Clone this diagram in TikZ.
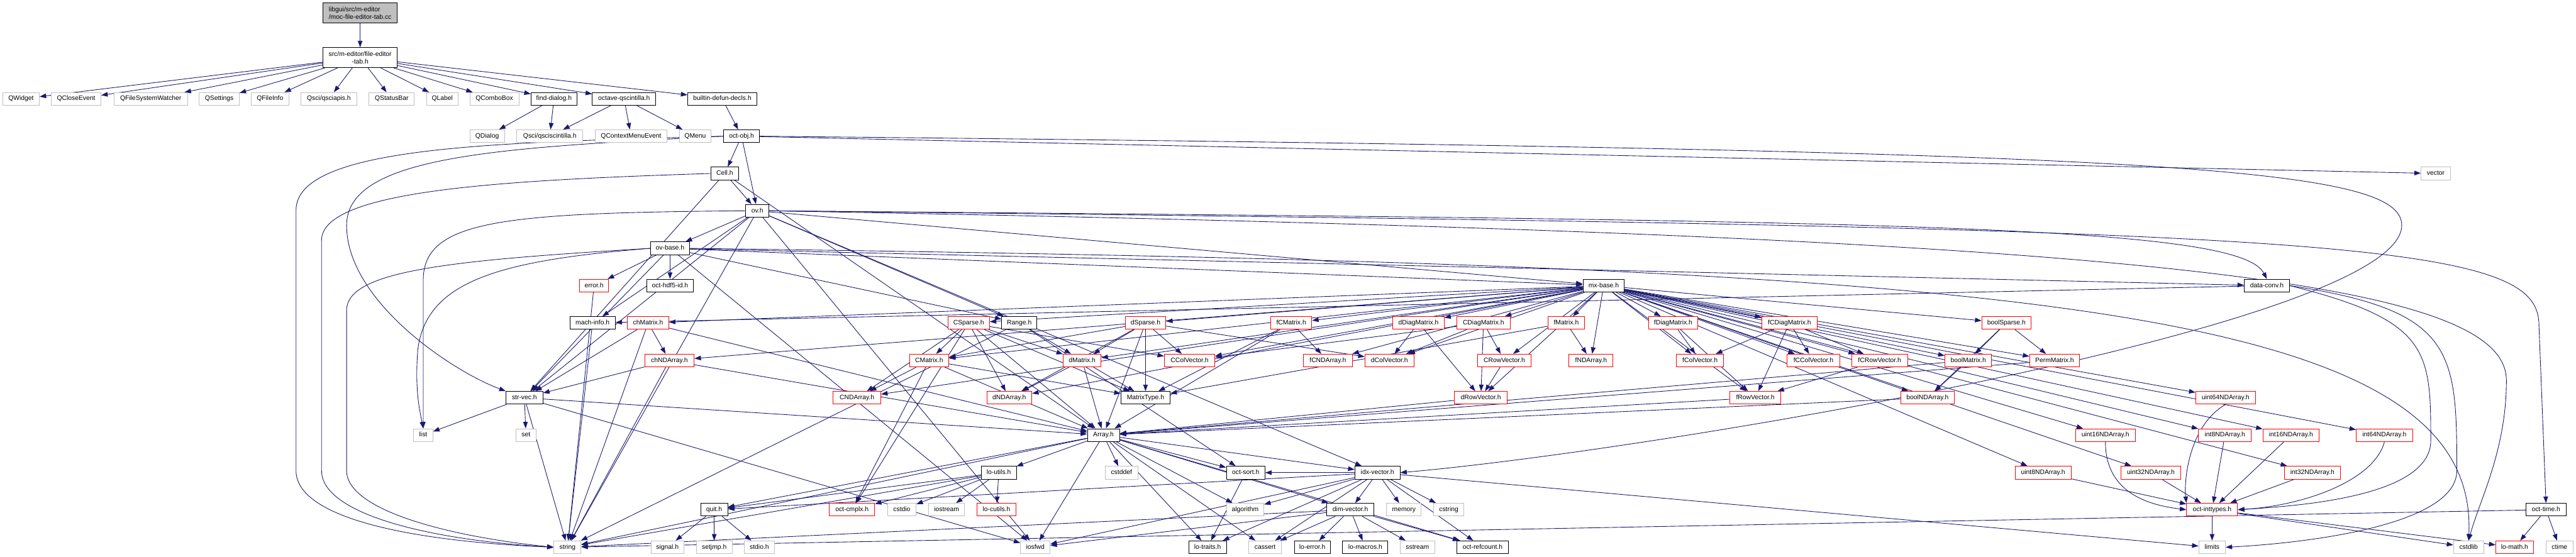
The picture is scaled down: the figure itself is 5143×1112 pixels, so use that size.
\documentclass[tikz,border=0pt]{standalone}
\usepackage{fontspec}
\setmainfont{Liberation Sans}
\usetikzlibrary{arrows.meta}
\definecolor{edgec}{HTML}{191970}
\definecolor{grayb}{HTML}{BFBFBF}
\definecolor{rootf}{HTML}{BFBFBF}
\definecolor{redb}{HTML}{FF0000}
\pgfdeclarelayer{back}
\pgfdeclarelayer{bg}
\pgfsetlayers{back,bg,main}
\tikzset{
 nb/.style={draw, fill=white, line width=0.55pt, inner sep=0pt, minimum height=12.75pt,
   font=\fontsize{6.5pt}{7.5pt}\selectfont, text height=4.8pt, text depth=1.4pt},
 gn/.style={nb, draw=grayb},
 bn/.style={nb, draw=black},
 rn/.style={nb, draw=redb},
 bw/.style={minimum width=#1*0.5pt},
 two/.style={draw=black, line width=0.55pt, inner sep=0pt, minimum height=20pt,
   font=\fontsize{6.5pt}{7.5pt}\selectfont},
 edg/.style={draw=edgec, line width=0.55pt, -{Triangle[length=6.5pt,width=4.6pt]}},
}
\begin{document}
\begin{tikzpicture}[x=0.5pt,y=-0.5pt]
\useasboundingbox (0,0) rectangle (5143,1112);
\begin{pgfonlayer}{back}
\fill[white] (0,0) rectangle (5143,1112);
\end{pgfonlayer}
% top
\node[two,fill=rootf,bw=148,align=left] (root) at (719,25.7) {libgui/src/m-editor\\/moc-file-editor-tab.cc};
\node[two,fill=white,bw=148,align=center] (fet) at (719,115) {src/m-editor/file-editor\\-tab.h};
% row 2
\node[gn,bw=73] (QWidget) at (42,197.5) {QWidget};
\node[gn,bw=99] (QCloseEvent) at (152,197.5) {QCloseEvent};
\node[gn,bw=146.5] (QFSW) at (301,197.5) {QFileSystemWatcher};
\node[gn,bw=80] (QSettings) at (437.7,197.5) {QSettings};
\node[gn,bw=75] (QFileInfo) at (539,197.5) {QFileInfo};
\node[gn,bw=112] (qsciapis) at (656.5,197.5) {Qsci/qsciapis.h};
\node[gn,bw=90.5] (QStatusBar) at (782,197.5) {QStatusBar};
\node[gn,bw=62.6] (QLabel) at (883,197.5) {QLabel};
\node[gn,bw=97.6] (QComboBox) at (987,197.5) {QComboBox};
\node[bn,bw=91.6] (finddlg) at (1106,197.5) {find-dialog.h};
\node[bn,bw=126.7] (octqsci) at (1246,197.5) {octave-qscintilla.h};
\node[bn,bw=138] (builtin) at (1442,197.5) {builtin-defun-decls.h};
% row 3
\node[gn,bw=69] (QDialog) at (972.6,272) {QDialog};
\node[gn,bw=132] (qsciscin) at (1097.7,272) {Qsci/qsciscintilla.h};
\node[gn,bw=143.7] (QCME) at (1260,272) {QContextMenuEvent};
\node[gn,bw=64] (QMenu) at (1388,272) {QMenu};
\node[bn,bw=72] (octobj) at (1480.5,272) {oct-obj.h};
% rows 4-7
\node[bn,bw=56] (Cell) at (1447,346.5) {Cell.h};
\node[gn,bw=58.6] (vector) at (4863,346.5) {vector};
\node[bn,bw=46.6] (ovh) at (1512,421) {ov.h};
\node[bn,bw=78] (ovbase) at (1337.7,496) {ov-base.h};
\node[rn,bw=58] (error) at (1186,570.5) {error.h};
\node[bn,bw=94] (hdf5) at (1337.7,570.5) {oct-hdf5-id.h};
\node[bn,bw=82.8] (mxbase) at (3201.7,570.5) {mx-base.h};
\node[bn,bw=90.3] (dataconv) at (4525.8,570.5) {data-conv.h};
% row 8
\node[bn,bw=90.5] (machinfo) at (1183,645) {mach-info.h};
\node[rn,bw=82] (chMatrix) at (1294,645) {chMatrix.h};
\node[rn,bw=83] (CSparse) at (1934,645) {CSparse.h};
\node[bn,bw=70] (Range) at (2035,645) {Range.h};
\node[rn,bw=81] (dSparse) at (2287,645) {dSparse.h};
\node[rn,bw=82] (fCMatrix) at (2578,645) {fCMatrix.h};
\node[rn,bw=102] (dDiag) at (2832,645) {dDiagMatrix.h};
\node[rn,bw=106.4] (CDiag) at (2961.7,645) {CDiagMatrix.h};
\node[rn,bw=73.5] (fMatrix) at (3127,645) {fMatrix.h};
\node[rn,bw=99] (fDiag) at (3340.4,645) {fDiagMatrix.h};
\node[rn,bw=110.8] (fCDiag) at (3572.7,645) {fCDiagMatrix.h};
\node[rn,bw=98] (boolSparse) at (4005.7,645) {boolSparse.h};
% row 9
\node[rn,bw=98.7] (chND) at (1336.5,720) {chNDArray.h};
\node[rn,bw=78.4] (CMatrix) at (1855,720) {CMatrix.h};
\node[rn,bw=75.7] (dMatrix) at (2160.5,720) {dMatrix.h};
\node[rn,bw=101] (CColV) at (2375,720) {CColVector.h};
\node[rn,bw=98.7] (fCND) at (2651,720) {fCNDArray.h};
\node[rn,bw=98] (dColV) at (2774,720) {dColVector.h};
\node[rn,bw=107.5] (CRowV) at (3003.4,720) {CRowVector.h};
\node[rn,bw=88] (fND) at (3176.5,720) {fNDArray.h};
\node[rn,bw=94] (fColV) at (3394,720) {fColVector.h};
\node[rn,bw=105.3] (fCColV) at (3620.4,720) {fCColVector.h};
\node[rn,bw=111.9] (fCRowV) at (3752.6,720) {fCRowVector.h};
\node[rn,bw=93.2] (boolMatrix) at (3929.7,720) {boolMatrix.h};
\node[rn,bw=99.8] (PermMatrix) at (4102,720) {PermMatrix.h};
% row 10
\node[bn,bw=73.5] (strvec) at (1047,794.5) {str-vec.h};
\node[rn,bw=95] (CND) at (1711,794.5) {CNDArray.h};
\node[rn,bw=90] (dND) at (2015,794.5) {dNDArray.h};
\node[bn,bw=98] (MatrixType) at (2287,794.5) {MatrixType.h};
\node[rn,bw=104.8] (dRowV) at (2956.5,794.5) {dRowVector.h};
\node[rn,bw=102.6] (fRowV) at (3504.4,794.5) {fRowVector.h};
\node[rn,bw=107] (boolND) at (3848.3,794.5) {boolNDArray.h};
\node[rn,bw=118.8] (u64) at (4443.3,794.5) {uint64NDArray.h};
% row 11
\node[gn,bw=38] (list) at (845,869) {list};
\node[gn,bw=40.6] (set) at (1050,869) {set};
\node[bn,bw=64] (Array) at (2203,869) {Array.h};
\node[rn,bw=118.5] (u16) at (4203.5,869) {uint16NDArray.h};
\node[rn,bw=105.4] (i8) at (4442,869) {int8NDArray.h};
\node[rn,bw=112.4] (i16) at (4574,869) {int16NDArray.h};
\node[rn,bw=112.4] (i64) at (4760.5,869) {int64NDArray.h};
% row 12
\node[bn,bw=70] (loutils) at (1994,944) {lo-utils.h};
\node[gn,bw=64.7] (cstddef) at (2239,944) {cstddef};
\node[bn,bw=77] (octsort) at (2487,944) {oct-sort.h};
\node[bn,bw=90] (idxvec) at (2750,944) {idx-vector.h};
\node[rn,bw=111.9] (u8) at (4079,944) {uint8NDArray.h};
\node[rn,bw=118.5] (u32) at (4294,944) {uint32NDArray.h};
\node[rn,bw=111.8] (i32) at (4616.7,944) {int32NDArray.h};
% row 13
\node[bn,bw=54] (quit) at (1425.7,1018) {quit.h};
\node[rn,bw=90.5] (octcmplx) at (1701,1018) {oct-cmplx.h};
\node[gn,bw=57] (cstdio) at (1800.5,1018) {cstdio};
\node[gn,bw=72] (iostream) at (1890,1018) {iostream};
\node[rn,bw=78.4] (locutils) at (1989.5,1018) {lo-cutils.h};
\node[gn,bw=74.6] (algorithm) at (2486,1018) {algorithm};
\node[bn,bw=94.4] (dimvec) at (2696,1018) {dim-vector.h};
\node[gn,bw=69] (memory) at (2803,1018) {memory};
\node[gn,bw=61] (cstring) at (2892.4,1018) {cstring};
\node[rn,bw=101.6] (octint) at (4416.4,1018) {oct-inttypes.h};
\node[bn,bw=80] (octtime) at (5083,1018) {oct-time.h};
% row 14
\node[gn,bw=54] (string) at (1133,1093) {string};
\node[gn,bw=65] (signal) at (1332.5,1093) {signal.h};
\node[gn,bw=71] (setjmp) at (1426,1093) {setjmp.h};
\node[gn,bw=61] (stdio) at (1516,1093) {stdio.h};
\node[gn,bw=59] (iosfwd) at (2067,1093) {iosfwd};
\node[bn,bw=75.7] (lotraits) at (2411,1093) {lo-traits.h};
\node[gn,bw=64.7] (cassert) at (2525.7,1093) {cassert};
\node[bn,bw=72] (loerror) at (2620,1093) {lo-error.h};
\node[bn,bw=90.5] (lomacros) at (2725.7,1093) {lo-macros.h};
\node[gn,bw=68.5] (sstream) at (2830,1093) {sstream};
\node[bn,bw=102.6] (octref) at (2960,1093) {oct-refcount.h};
\node[gn,bw=53] (limits) at (4416.4,1093) {limits};
\node[gn,bw=60] (cstdlib) at (4928.5,1093) {cstdlib};
\node[rn,bw=75] (lomath) at (5020.4,1093) {lo-math.h};
\node[gn,bw=54] (ctime) at (5110,1093) {ctime};

\begin{pgfonlayer}{bg}
\draw[edg] (root) -- (fet);
\foreach \t in {QWidget,QCloseEvent,QFSW,QSettings,QFileInfo,qsciapis,QStatusBar,QLabel,QComboBox,finddlg,octqsci,builtin}
  \draw[edg] (fet) -- (\t);
\foreach \t in {QDialog,qsciscin} \draw[edg] (finddlg) -- (\t);
\foreach \t in {qsciscin,QCME,QMenu} \draw[edg] (octqsci) -- (\t);
\draw[edg] (builtin) -- (octobj);
% oct-obj.h
\foreach \t in {Cell,ovh,vector} \draw[edg] (octobj) -- (\t);
\draw[edg] (octobj.west) .. controls (1000,285) and (591,290) .. (591,420) -- (591,940) .. controls (591,1030) and (800,1080) .. (string.west);
\draw[edg] (octobj.west) .. controls (1000,295) and (692,310) .. (692,450) .. controls (692,600) and (900,740) .. (strvec.north west);
\draw[edg] (octobj.east) .. controls (4300,300) and (4795,330) .. (4795,450) .. controls (4795,650) and (3300,900) .. (idxvec.east);
% Cell.h
\draw[edg] (Cell) -- (ovh);
\draw[edg] (Cell.west) .. controls (1000,360) and (642,380) .. (642,480) -- (642,940) .. controls (642,1025) and (850,1078) .. (string.west);
\draw[edg] (Cell) -- (strvec);
\draw[edg] (Cell) -- (Array);
% ov.h
\foreach \t in {ovbase,strvec,machinfo,mxbase,Range,idxvec,iosfwd,string} \draw[edg] (ovh) -- (\t);
\draw[edg] (ovh.west) .. controls (1000,425) and (845,440) .. (845,560) -- (list.north);
\draw[edg] (ovh.east) .. controls (3800,440) and (4470,450) .. (dataconv.north);
\draw[edg] (ovh.east) .. controls (4700,455) and (5069,480) .. (5069,650) -- (octtime.north);
\draw[edg] (ovh.east) .. controls (4300,470) and (5004,560) .. (5004,760) .. controls (5004,900) and (4950,1000) .. (cstdlib.north);
% ov-base.h
\foreach \t in {error,hdf5,strvec,Range,mxbase,dataconv,iosfwd} \draw[edg] (ovbase) -- (\t);
\draw[edg] (ovbase.west) .. controls (900,520) and (692,540) .. (692,620) -- (692,940) .. controls (692,1020) and (900,1072) .. (string.west);
\draw[edg] (ovbase.west) .. controls (1000,520) and (850,560) .. (834,700) .. controls (828,780) and (838,820) .. (list.north);
\draw[edg] (ovbase.east) .. controls (4000,530) and (4950,600) .. (cstdlib.north);
\draw[edg] (error) -- (string);
\draw[edg] (machinfo) -- (string);
% data-conv.h
\draw[edg] (dataconv) -- (machinfo);
\draw[edg] (dataconv.east) .. controls (4900,620) and (4905,700) .. (4905,940) .. controls (4905,1050) and (4600,1085) .. (limits.east);
\draw[edg] (dataconv.east) .. controls (4850,640) and (4853,700) .. (4853,880) .. controls (4853,990) and (4600,1010) .. (octint.east);
% mx-base.h
\foreach \t in {chMatrix,chND,CMatrix,CND,CSparse,dSparse,dMatrix,dND,dColV,dRowV,dDiag,CColV,CRowV,CDiag,fMatrix,fND,fColV,fRowV,fDiag,fCMatrix,fCND,fCColV,fCRowV,fCDiag,boolMatrix,boolND,boolSparse,PermMatrix,i8,i16,i32,i64,u8,u16,u32,u64}
  \draw[edg] (mxbase) -- (\t);
% char
\foreach \t in {chND,strvec,string,Array} \draw[edg] (chMatrix) -- (\t);
\foreach \t in {strvec,string,Array} \draw[edg] (chND) -- (\t);
\foreach \t in {set,list,string,Array,iosfwd} \draw[edg] (strvec) -- (\t);
% sparse / matrices
\foreach \t in {CMatrix,CND,dMatrix,dND,CColV,MatrixType,octcmplx,Array} \draw[edg] (CSparse) -- (\t);
\foreach \t in {dMatrix,octsort,string} \draw[edg] (Range) -- (\t);
\foreach \t in {CMatrix,dMatrix,dND,CColV,MatrixType,dColV,Array} \draw[edg] (dSparse) -- (\t);
\foreach \t in {fCND,MatrixType,Array} \draw[edg] (fCMatrix) -- (\t);
\foreach \t in {CND,MatrixType,octcmplx,Array} \draw[edg] (CMatrix) -- (\t);
\foreach \t in {dND,MatrixType,Array} \draw[edg] (dMatrix) -- (\t);
\foreach \t in {dColV,dRowV} \draw[edg] (dDiag) -- (\t);
\foreach \t in {dColV,CRowV,dRowV,CColV} \draw[edg] (CDiag) -- (\t);
\foreach \t in {fND,MatrixType} \draw[edg] (fMatrix) -- (\t);
\foreach \t in {fColV,fRowV} \draw[edg] (fDiag) -- (\t);
\foreach \t in {fCColV,fCRowV,fRowV,fColV} \draw[edg] (fCDiag) -- (\t);
\draw[edg] (CRowV) -- (dRowV);
\draw[edg] (fCRowV) -- (fRowV);
\foreach \t in {boolMatrix,PermMatrix,boolND} \draw[edg] (boolSparse) -- (\t);
\foreach \t in {boolND,Array} \draw[edg] (boolMatrix) -- (\t);
\draw[edg] (boolND) -- (Array);
\draw[edg] (PermMatrix) -- (Array);
\draw[edg] (dRowV) -- (Array);
\draw[edg] (fRowV) -- (Array);
% integer arrays
\draw[edg] (u64.south) .. controls (4370,850) and (4360,960) .. (octint.north west);
\draw[edg] (u16.south) .. controls (4203,990) and (4300,1010) .. (octint.west);
\foreach \t in {i8,i16,i32,u32,u8} \draw[edg] (\t) -- (octint);
\draw[edg] (i64.south) .. controls (4740,960) and (4600,1010) .. (octint.east);
\foreach \t in {limits,cstdlib,lomath} \draw[edg] (octint) -- (\t);
\foreach \t in {lomath,ctime,string} \draw[edg] (octtime) -- (\t);
% Array.h and below
\foreach \t in {loutils,cstddef,octsort,idxvec,dimvec,quit,iosfwd,lotraits,cassert,algorithm,octref,string} \draw[edg] (Array) -- (\t);
\foreach \t in {octcmplx,cstdio,iostream,locutils,string,quit} \draw[edg] (loutils) -- (\t);
\draw[edg] (octsort) -- (lotraits);
\foreach \t in {dimvec,memory,cstring,octref,algorithm,cassert,iosfwd,octsort,lotraits,quit,limits} \draw[edg] (idxvec) -- (\t);
\foreach \t in {loerror,lomacros,sstream,octref,cassert,iosfwd,string} \draw[edg] (dimvec) -- (\t);
\foreach \t in {signal,setjmp,stdio} \draw[edg] (quit) -- (\t);
\end{pgfonlayer}
\end{tikzpicture}
\end{document}
